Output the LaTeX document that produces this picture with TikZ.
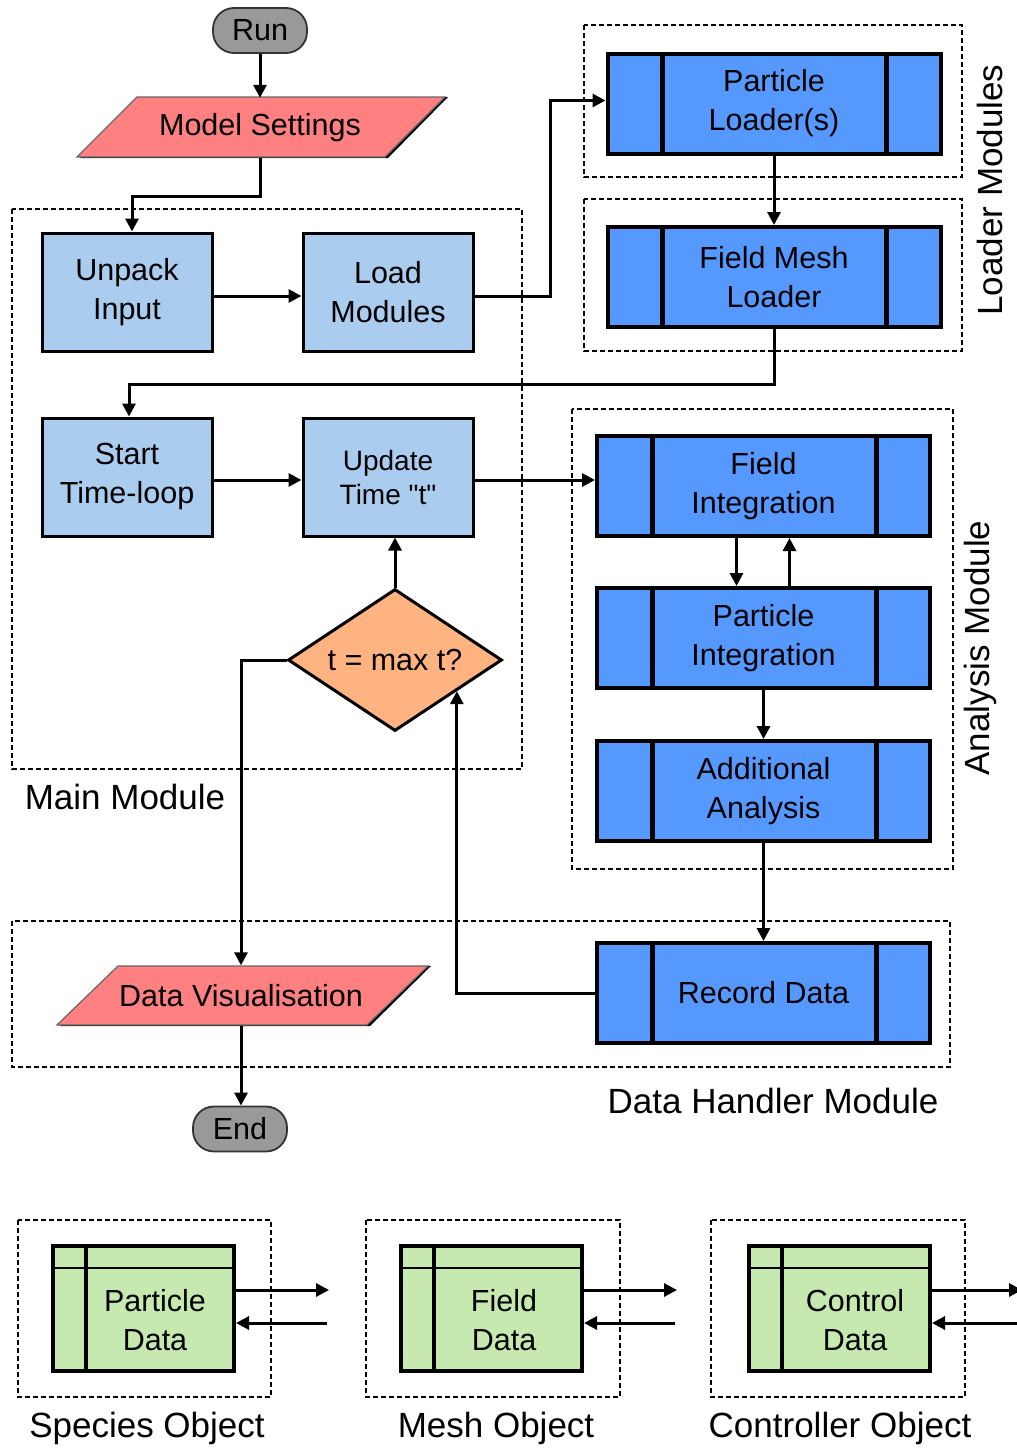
\documentclass[tikz,border=0pt]{standalone}
\usepackage{fontspec}
\setmainfont{Liberation Sans}
\newfontfamily\plainfont{Liberation Sans}[Ligatures=TeXOff]
\usetikzlibrary{shapes.geometric,arrows.meta,calc}
\definecolor{tgray}{RGB}{153,153,153}
\definecolor{pinkc}{RGB}{255,128,128}
\definecolor{lblue}{RGB}{170,204,238}
\definecolor{pblue}{RGB}{85,153,255}
\definecolor{peach}{RGB}{255,179,128}
\definecolor{lgreen}{RGB}{198,233,175}
\begin{document}
\begin{tikzpicture}[x=1pt,y=-1pt,
  arr/.style={draw, line width=3pt, -{Triangle[length=13pt,width=13pt]}},
  modbox/.style={draw, line width=2.2pt, dash pattern=on 5pt off 3pt},
  lbl/.style={font=\fontsize{35}{42}\selectfont, inner sep=0pt},
  txt/.style={font=\fontsize{30.5}{39}\selectfont, align=center, inner sep=0pt},
  simple/.style={txt, draw, line width=3pt, fill=lblue, minimum width=170pt, minimum height=118pt},
  proc/.style={txt, draw, line width=4pt, fill=pblue, minimum width=333pt, minimum height=100pt},
  term/.style={txt, draw=black!80, line width=1.8pt, fill=tgray, rounded corners=21pt, minimum width=94pt, minimum height=45pt},
  databox/.style={draw, line width=4pt, fill=lgreen, minimum width=181pt, minimum height=125pt, inner sep=0pt},
  para/.style={fill=pinkc, draw=black!60, line width=1.2pt},
  paratxt/.style={txt, minimum height=60pt},
]
\useasboundingbox (0,0) rectangle (1017,1448);

% dashed module boxes
\draw[modbox] (12,209) rectangle (522,769);
\draw[modbox] (584,25) rectangle (962,177);
\draw[modbox] (584,199) rectangle (962,351);
\draw[modbox] (572,409) rectangle (953,869);
\draw[modbox] (12,921) rectangle (950,1067);
\draw[modbox] (18,1220) rectangle (271,1397);
\draw[modbox] (366,1220) rectangle (620,1397);
\draw[modbox] (711,1220) rectangle (965,1397);

% labels
\node[lbl] (lmain) at (125,797) {Main Module};
\node[lbl, rotate=90] (lload) at (990,190) {Loader Modules};
\node[lbl, rotate=90] (lana) at (980,648) {Analysis Module};
\node[lbl] (ldh) at (773,1101) {Data Handler Module};
\node[lbl] (lsp) at (147,1428) {Species Object};
\node[lbl] (lme) at (496,1428) {Mesh Object};
\node[lbl] (lco) at (840,1428) {Controller Object};

% terminals
\node[term] (run) at (260,30.5) {Run};
\node[term] (end) at (240,1129) {End};

% parallelograms
\fill[black] (140,97) -- (448,97) -- (388,158) -- (80,158) -- cycle;
\path[para] (137,97) -- (445,97) -- (385,157) -- (77,157) -- cycle;
\node[paratxt] (ms) at (260,128) {Model Settings};
\fill[black] (121,966) -- (431,966) -- (370,1026) -- (60,1026) -- cycle;
\path[para] (118,966) -- (428,966) -- (367,1025) -- (57,1025) -- cycle;
\node[paratxt] (dv) at (241,995.5) {Data Visualisation};

% main module
\node[simple] (unpack) at (127,292) {Unpack\\Input};
\node[simple] (load) at (388,292) {Load\\Modules};
\node[simple] (start) at (127,477) {Start\\Time-loop};
\node[simple, font=\plainfont\fontsize{28}{34}\selectfont] (upd) at (388,477) {Update\\Time "t"};
\node[shape=diamond, draw, line width=3pt, fill=peach, txt, minimum width=214pt, minimum height=142pt, aspect=1.5] (dec) at (395,660) {t = max t?};

% process boxes
\node[proc] (pl) at (774,103.5) {Particle\\Loader(s)};
\node[proc] (fml) at (774,277) {Field Mesh\\Loader};
\node[proc] (fi) at (763.5,486) {Field\\Integration};
\node[proc] (pi) at (763.5,638) {Particle\\Integration};
\node[proc] (aa) at (763.5,791) {Additional\\Analysis};
\node[proc] (rd) at (763.5,993) {Record Data};
\foreach \n in {pl,fml,fi,pi,aa,rd}{
  \draw[line width=5pt] ([xshift=57pt]\n.north west) -- ([xshift=57pt]\n.south west);
  \draw[line width=5pt] ([xshift=-56pt]\n.north east) -- ([xshift=-56pt]\n.south east);
}

% data objects
\node[databox] (pd) at (143.5,1308.5) {};
\node[databox] (fd) at (491.5,1308.5) {};
\node[databox] (cd) at (839.5,1308.5) {};
\foreach \n in {pd,fd,cd}{
  \draw[line width=2.5pt] ([yshift=-24pt]\n.north west) -- ([yshift=-24pt]\n.north east);
  \draw[line width=4pt] ([xshift=35pt]\n.north west) -- ([xshift=35pt]\n.south west);
}
\node[txt] (pdt) at (155,1320) {Particle\\Data};
\node[txt] (fdt) at (504,1320) {Field\\Data};
\node[txt] (cdt) at (855,1320) {Control\\Data};

% connectors
\draw[arr] (run.south) -- (ms.north);
\draw[arr] (ms.south) -- ++(0,38) -| ([xshift=5pt]unpack.north);
\draw[arr] ([yshift=-4pt]unpack.east) -- ([yshift=-4pt]load.west);
\draw[arr] ([yshift=-4pt]load.east) -- ++(76,0) |- ([yshift=3pt]pl.west);
\draw[arr] (pl.south) -- (fml.north);
\draw[arr] (fml.south) -- ++(0,55) -| ([xshift=2pt]start.north);
\draw[arr] ([yshift=-3pt]start.east) -- ([yshift=-3pt]upd.west);
\draw[arr] ([yshift=-3pt]upd.east) -- ([yshift=-3pt]upd.east -| fi.west);
\draw[arr] ([xshift=-27pt]fi.south) -- ([xshift=-27pt]pi.north);
\draw[arr] ([xshift=26pt]pi.north) -- ([xshift=26pt]fi.south);
\draw[arr] (pi.south) -- (aa.north);
\draw[arr] (aa.south) -- (rd.north);
\draw[arr] (rd.west) -| ($(dec.east)!0.43!(dec.south)$);
\draw[arr] (dec.north) -- (dec.north |- upd.south);
\draw[arr] (dec.west) -| (dv.north);
\draw[arr] (dv.south) -- (dv.south |- end.north);

\foreach \n/\e in {pd/93,fd/93,cd/90}{
  \draw[arr] ([yshift=18.5pt]\n.east) -- ++(\e,0);
  \draw[arr] ([yshift=-14.5pt]\n.east) ++(\e-2,0) -- ([yshift=-14.5pt]\n.east);
}
\end{tikzpicture}
\end{document}
